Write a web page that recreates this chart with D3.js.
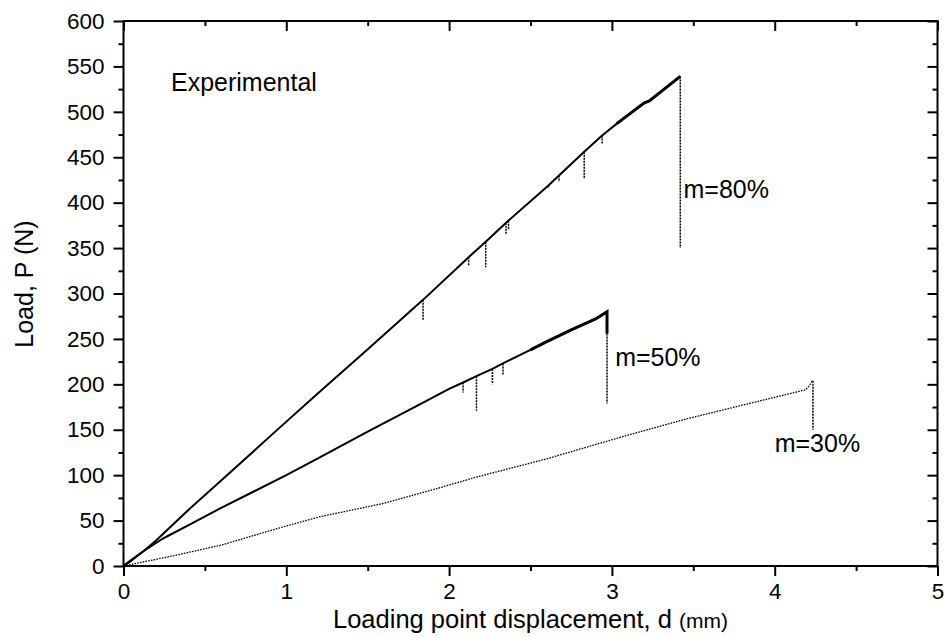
<!DOCTYPE html>
<html lang="en">
<head>
<meta charset="UTF-8">
<title>Load vs displacement</title>
<style>
body {
  margin: 0;
  background: #fff;
  font-family: 'Liberation Sans', Arial, sans-serif;
}
.tick text {
  font-family: 'Liberation Sans', Arial, sans-serif;
  font-size: 22.5px;
  fill: #000;
}
.tick line {
  stroke: #000;
  stroke-width: 2;
}
.label {
  font-size: 25px;
  fill: #000;
}
</style>
</head>
<body>
<div id="chart"></div>
<script src="https://cdn.jsdelivr.net/npm/d3@7"></script>
<script>

// load-displacement readings, [d (mm), P (N)]
var m80 = [
  [0, 0], [0.05, 6], [0.12, 16], [0.2, 28], [0.4, 62], [0.6, 94], [0.92, 146],
  [1.2, 191], [1.49, 237], [1.84, 293], [2.12, 340], [2.225, 357], [2.35, 378],
  [2.61, 419], [2.675, 430], [2.83, 456], [2.94, 474], [3.03, 487], [3.17, 506],
  [3.2, 510], [3.23, 512], [3.42, 539]
];
var m50 = [
  [0, 0], [0.05, 7], [0.12, 16], [0.24, 30], [0.4, 45], [0.6, 64], [0.8, 82],
  [1.0, 100], [1.2, 119], [1.5, 148], [1.82, 178], [2.0, 195],
  [2.086, 202], [2.168, 209], [2.266, 217], [2.331, 223], [2.5, 238], [2.6, 247],
  [2.75, 260], [2.9, 272], [2.97, 280], [2.97, 256]
];
var m30 = [
  [0, 0], [0.3, 11], [0.6, 23], [0.94, 41], [1.2, 54], [1.6, 69], [1.92, 85],
  [2.17, 98], [2.6, 118], [3.0, 139], [3.46, 162], [3.8, 177], [4.19, 194],
  [4.215, 199], [4.23, 204]
];

// small load drops along the curves, [d, P top, P bottom]
var spikes80 = [
  [1.84, 293, 271], [2.12, 340, 331], [2.225, 357, 329], [2.35, 378, 365],
  [2.365, 380, 370], [2.61, 419, 416], [2.675, 430, 423], [2.83, 456, 426],
  [2.94, 474, 465]
];
var spikes50 = [
  [2.086, 202, 191], [2.168, 209, 171], [2.266, 217, 200], [2.331, 223, 210]
];

// final failure drops, [d, P top, P bottom]
var drops = [
  [3.42, 539, 350], [2.97, 256, 179], [4.235, 204, 150]
];

var curveLabels = [
  { text: 'm=80%', d: 3.44, P: 405 },
  { text: 'm=50%', d: 3.02, P: 220 },
  { text: 'm=30%', d: 4.0, P: 125 }
];

var xTicks = [0, 1, 2, 3, 4, 5];
var xMinor = [0.5, 1.5, 2.5, 3.5, 4.5];
var yTicks = [0, 50, 100, 150, 200, 250, 300, 350, 400, 450, 500, 550, 600];
var yMinor = [25, 75, 125, 175, 225, 275, 325, 375, 425, 475, 525, 575];

var width = 949;
var height = 638;

var x = d3.scaleLinear().domain([0, 5]).range([123.5, 937.5]);
var y = d3.scaleLinear().domain([0, 600]).range([566, 21]);

var svg = d3.select('#chart')
  .append('svg')
  .attr('width', width)
  .attr('height', height);

// axes
function drawAxis(axis, tx, ty) {
  var g = svg.append('g')
    .attr('transform', 'translate(' + tx + ',' + ty + ')')
    .call(axis);
  g.select('.domain').remove();
  return g;
}

drawAxis(d3.axisBottom(x).tickValues(xTicks).tickSize(10).tickPadding(7)
  .tickFormat(d3.format('d')), 0, y(0));
drawAxis(d3.axisBottom(x).tickValues(xMinor).tickSize(5).tickFormat(''), 0, y(0));
drawAxis(d3.axisTop(x).tickValues(xTicks).tickSize(-10).tickFormat(''), 0, y(600));
drawAxis(d3.axisTop(x).tickValues(xMinor).tickSize(-5).tickFormat(''), 0, y(600));

drawAxis(d3.axisLeft(y).tickValues(yTicks).tickSize(10).tickPadding(9)
  .tickFormat(d3.format('d')), x(0), 0);
drawAxis(d3.axisLeft(y).tickValues(yMinor).tickSize(5).tickFormat(''), x(0), 0);
drawAxis(d3.axisRight(y).tickValues(yTicks).tickSize(-10).tickFormat(''), x(5), 0);
drawAxis(d3.axisRight(y).tickValues(yMinor).tickSize(-5).tickFormat(''), x(5), 0);

svg.append('rect')
  .attr('x', x(0))
  .attr('y', y(600))
  .attr('width', x(5) - x(0))
  .attr('height', y(0) - y(600))
  .attr('fill', 'none')
  .attr('stroke', '#000')
  .attr('stroke-width', 2);

// curves
var line = d3.line()
  .x(function (d) { return x(d[0]); })
  .y(function (d) { return y(d[1]); });

svg.append('path')
  .datum(m30)
  .attr('d', line)
  .attr('fill', 'none')
  .attr('stroke', '#000')
  .attr('stroke-width', 1.3)
  .attr('stroke-dasharray', '1.6,1.2');

[m80, m50].forEach(function (s) {
  svg.append('path')
    .datum(s)
    .attr('d', line)
    .attr('fill', 'none')
    .attr('stroke', '#000')
    .attr('stroke-width', 2)
    .attr('stroke-linejoin', 'round');
});

// heavier trace near the peaks
svg.append('path')
  .datum(m80.filter(function (d) { return d[0] >= 3.03; }))
  .attr('d', line)
  .attr('fill', 'none')
  .attr('stroke', '#000')
  .attr('stroke-width', 3);
svg.append('path')
  .datum(m50.filter(function (d) { return d[0] >= 2.5; }))
  .attr('d', line)
  .attr('fill', 'none')
  .attr('stroke', '#000')
  .attr('stroke-width', 3);

// dotted drops
svg.selectAll('line.spike')
  .data(spikes80.concat(spikes50).concat(drops))
  .enter()
  .append('line')
  .attr('class', 'spike')
  .attr('x1', function (d) { return x(d[0]); })
  .attr('x2', function (d) { return x(d[0]); })
  .attr('y1', function (d) { return y(d[1]); })
  .attr('y2', function (d) { return y(d[2]); })
  .attr('stroke', '#000')
  .attr('stroke-width', 1.5)
  .attr('stroke-dasharray', '2,1');

// labels
svg.selectAll('text.curve')
  .data(curveLabels)
  .enter()
  .append('text')
  .attr('class', 'label curve')
  .attr('x', function (d) { return x(d.d); })
  .attr('y', function (d) { return y(d.P); })
  .text(function (d) { return d.text; });

svg.append('text')
  .attr('class', 'label')
  .attr('x', 171)
  .attr('y', 91)
  .text('Experimental');

var xt = svg.append('text')
  .attr('class', 'label')
  .attr('x', 333)
  .attr('y', 628)
  .style('font-size', '25.5px');
xt.append('tspan').text('Loading point displacement, d ');
xt.append('tspan').style('font-size', '21px').text('(mm)');

svg.append('text')
  .attr('class', 'label')
  .attr('text-anchor', 'middle')
  .attr('transform', 'translate(33,284) rotate(-90)')
  .text('Load, P (N)');

</script>
</body>
</html>
